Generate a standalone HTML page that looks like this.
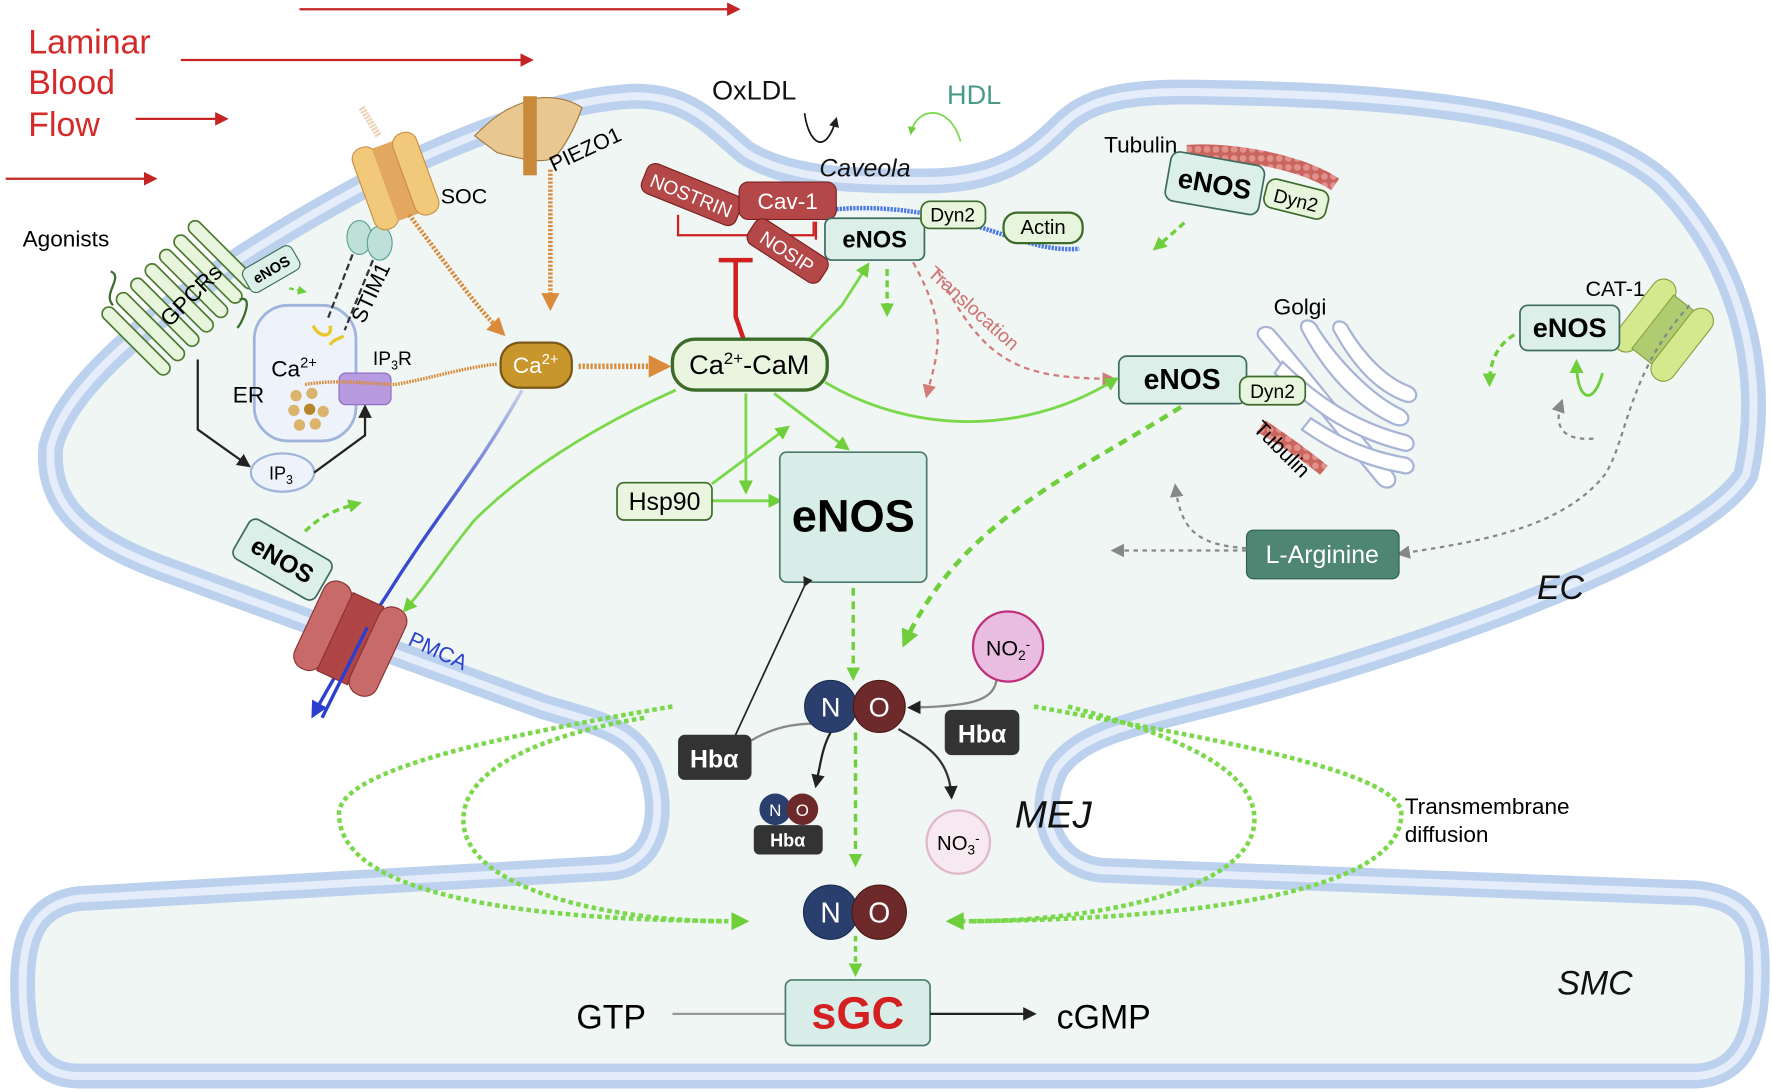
<!DOCTYPE html>
<html><head><meta charset="utf-8"><style>
html,body{margin:0;padding:0;background:#fff}
svg{display:block}
text{font-family:"Liberation Sans",sans-serif}
</style></head><body>
<svg width="1772" height="1092" viewBox="0 0 1568 966" xmlns="http://www.w3.org/2000/svg">
<defs>
<path id="mem" d="M45,395 C60,330 180,240 330,160 C420,115 500,88 560,85 C610,84 630,110 660,135 C700,160 760,160 820,160 C880,160 910,140 940,110 C970,80 1020,80 1090,82 C1250,85 1400,100 1470,160 C1540,230 1565,330 1545,420 C1510,480 1300,560 1120,610 C1010,640 960,645 935,680 C915,720 930,765 975,770 L1500,790 C1550,795 1555,820 1555,860 C1555,900 1550,950 1500,952 L70,952 C30,952 20,920 20,870 C20,830 30,800 70,795 L540,768 C580,765 590,720 575,680 C560,645 530,640 480,625 L150,505 C80,480 40,450 45,395 Z"/>
<marker id="ar" viewBox="0 0 10 10" refX="8" refY="5" markerWidth="6" markerHeight="6" orient="auto"><path d="M0,0L10,5L0,10z" fill="#c52424"/></marker>
<marker id="ag" viewBox="0 0 10 10" refX="8" refY="5" markerWidth="5" markerHeight="5" orient="auto"><path d="M0,0L10,5L0,10z" fill="#6fcf3a"/></marker>
<marker id="agb" viewBox="0 0 10 10" refX="8" refY="5" markerWidth="4" markerHeight="4" orient="auto"><path d="M0,0L10,5L0,10z" fill="#6fcf3a"/></marker>
<marker id="ak" viewBox="0 0 10 10" refX="8" refY="5" markerWidth="6" markerHeight="6" orient="auto"><path d="M0,0L10,5L0,10z" fill="#222"/></marker>
<marker id="ao" viewBox="0 0 10 10" refX="8" refY="5" markerWidth="4" markerHeight="4" orient="auto"><path d="M0,0L10,5L0,10z" fill="#d98b3a"/></marker>
<marker id="ap" viewBox="0 0 10 10" refX="8" refY="5" markerWidth="6" markerHeight="6" orient="auto"><path d="M0,0L10,5L0,10z" fill="#d47a7a"/></marker>
<marker id="agr" viewBox="0 0 10 10" refX="8" refY="5" markerWidth="6" markerHeight="6" orient="auto"><path d="M0,0L10,5L0,10z" fill="#888"/></marker>
<marker id="ab" viewBox="0 0 10 10" refX="8" refY="5" markerWidth="5" markerHeight="5" orient="auto"><path d="M0,0L10,5L0,10z" fill="#2a3fd0"/></marker>
<pattern id="tub" width="8" height="8" patternUnits="userSpaceOnUse"><rect width="8" height="8" fill="#c9645e"/><circle cx="4" cy="4" r="3" fill="#e0918a"/></pattern>
<linearGradient id="bl" x1="0" y1="0" x2="0" y2="1"><stop offset="0" stop-color="#c8cde8"/><stop offset="0.4" stop-color="#3a4fd0"/><stop offset="1" stop-color="#2a3fd0"/></linearGradient>
</defs>

<g stroke="#c52424" stroke-width="2" marker-end="url(#ar)">
<line x1="265" y1="8" x2="653" y2="8"/><line x1="160" y1="53" x2="470" y2="53"/><line x1="120" y1="105" x2="200" y2="105"/><line x1="5" y1="158" x2="137" y2="158"/>
</g>
<text x="25" y="47" font-size="30" fill="#d42a2a">Laminar</text>
<text x="25" y="83" font-size="30" fill="#d42a2a">Blood</text>
<text x="25" y="120" font-size="30" fill="#d42a2a">Flow</text>

<use href="#mem" fill="#eff6f4" stroke="#bcd1ee" stroke-width="22" stroke-linejoin="round"/>
<use href="#mem" fill="none" stroke="#e4edf9" stroke-width="7" stroke-linejoin="round"/>

<text x="1360" y="530" font-size="30" font-style="italic" fill="#111">EC</text>
<text x="1378" y="880" font-size="30" font-style="italic" fill="#111">SMC</text>
<text x="898" y="732" font-size="34" font-style="italic" fill="#111">MEJ</text>

<text x="630" y="88" font-size="24" fill="#111">OxLDL</text>
<path d="M712,100 C715,125 730,140 740,105" fill="none" stroke="#111" stroke-width="1.5" marker-end="url(#ak)"/>
<text x="838" y="92" font-size="24" fill="#4a9a8a">HDL</text>
<path d="M850,125 C840,90 810,95 806,118" fill="none" stroke="#7ad84a" stroke-width="1.5" marker-end="url(#ag)"/>
<text x="725" y="156" font-size="22" font-style="italic" fill="#111">Caveola</text>

<path d="M740,185 C800,180 850,195 880,205 C910,215 930,222 955,220" fill="none" stroke="#4a78e8" stroke-width="4" stroke-dasharray="2 1"/>
<path d="M600,190 V208 H720 V196" fill="none" stroke="#d02020" stroke-width="2"/>
<line x1="722" y1="196" x2="722" y2="212" stroke="#d02020" stroke-width="2"/>
<path d="M636,230 H666 M651,230 V280 L658,300" fill="none" stroke="#d02020" stroke-width="4"/>
<g transform="translate(612,172) rotate(22)"><rect x="-45" y="-14" width="90" height="28" rx="8" fill="#b44848" stroke="#7a2020"/><text x="0" y="7" font-size="17" fill="#fff" text-anchor="middle">NOSTRIN</text></g>
<rect x="654" y="161" width="86" height="33" rx="8" fill="#b44848" stroke="#7a2020"/><text x="697" y="185" font-size="20" fill="#fff" text-anchor="middle">Cav-1</text>
<g transform="translate(697,222) rotate(33)"><rect x="-38" y="-13" width="76" height="26" rx="8" fill="#b44848" stroke="#7a2020"/><text x="0" y="7" font-size="17" fill="#fff" text-anchor="middle">NOSIP</text></g>
<rect x="730" y="193" width="88" height="37" rx="6" fill="#dcefe9" stroke="#3d6b5e" stroke-width="1.5"/><text x="774" y="219" font-size="21" font-weight="bold" text-anchor="middle">eNOS</text>
<rect x="815" y="178" width="57" height="24" rx="8" fill="#e6f5dc" stroke="#3d6b2a" stroke-width="1.5"/><text x="843" y="196" font-size="17" text-anchor="middle">Dyn2</text>
<rect x="888" y="188" width="70" height="27" rx="12" fill="#e6f5dc" stroke="#3d6b2a" stroke-width="2"/><text x="923" y="207" font-size="18" text-anchor="middle">Actin</text>
<line x1="785" y1="238" x2="785" y2="278" stroke="#6fcf3a" stroke-width="3" stroke-dasharray="6 4" marker-end="url(#agb)"/>
<text transform="translate(820,243) rotate(42)" font-size="17" fill="#d07070">Translocation</text>
<path d="M808,232 C840,290 830,310 820,350" fill="none" stroke="#d47a7a" stroke-width="2" stroke-dasharray="5 4" marker-end="url(#ap)"/>
<path d="M830,240 C870,320 900,335 985,335" fill="none" stroke="#d47a7a" stroke-width="2" stroke-dasharray="5 4" marker-end="url(#ap)"/>

<text x="977" y="135" font-size="20">Tubulin</text>
<path d="M1050,128 C1100,125 1160,140 1185,158 L1178,168 C1150,150 1100,140 1050,143 Z" fill="url(#tub)"/>
<g transform="translate(1075,162) rotate(10)"><rect x="-42" y="-22" width="84" height="44" rx="8" fill="#dcefe9" stroke="#3d6b5e" stroke-width="1.5"/><text x="0" y="9" font-size="24" font-weight="bold" text-anchor="middle">eNOS</text></g>
<g transform="translate(1147,176) rotate(14)"><rect x="-28" y="-13" width="56" height="26" rx="8" fill="#e6f5dc" stroke="#3d6b2a" stroke-width="1.5"/><text x="0" y="7" font-size="17" text-anchor="middle">Dyn2</text></g>
<path d="M1048,197 L1022,220" stroke="#6fcf3a" stroke-width="3" stroke-dasharray="6 4" marker-end="url(#agb)"/>

<text x="1127" y="278" font-size="20">Golgi</text>
<g fill="#fff" stroke="#a8b4d6" stroke-width="2">
<path d="M1115,300 C1108,292 1120,285 1127,292 C1160,330 1190,370 1232,418 C1240,428 1228,436 1220,428 C1180,380 1150,340 1115,300 Z"/>
<path d="M1152,292 C1148,282 1162,280 1166,290 C1185,320 1215,350 1240,362 C1252,368 1245,380 1233,375 C1200,360 1172,330 1152,292 Z"/>
<path d="M1180,292 C1178,282 1190,282 1193,290 C1208,315 1228,335 1248,342 C1258,348 1252,358 1243,355 C1215,345 1195,320 1180,292 Z"/>
<path d="M1135,320 C1170,355 1205,375 1245,385 C1256,390 1250,402 1240,398 C1200,388 1165,368 1128,330 Z"/>
<path d="M1160,370 C1190,390 1215,400 1245,405 C1256,410 1250,422 1240,418 C1210,413 1180,400 1152,380 Z"/>
</g>
<path d="M1120,372 C1140,385 1160,400 1175,412 L1168,420 C1150,405 1130,392 1112,382 Z" fill="url(#tub)"/>
<text transform="translate(1108,380) rotate(45)" font-size="19">Tubulin</text>
<rect x="990" y="315" width="113" height="42" rx="7" fill="#dcefe9" stroke="#3d6b5e" stroke-width="1.5"/><text x="1046" y="344" font-size="25" font-weight="bold" text-anchor="middle">eNOS</text>
<rect x="1097" y="333" width="58" height="25" rx="8" fill="#e6f5dc" stroke="#3d6b2a" stroke-width="1.5"/><text x="1126" y="352" font-size="17" text-anchor="middle">Dyn2</text>

<text x="1403" y="262" font-size="19">CAT-1</text>
<g transform="translate(1472,292) rotate(38)">
<rect x="-32" y="-38" width="22" height="76" rx="11" fill="#d4e88e" stroke="#8aa040"/>
<rect x="-12" y="-30" width="24" height="60" fill="#b0cc70" stroke="#8aa040"/>
<rect x="10" y="-38" width="22" height="76" rx="11" fill="#d4e88e" stroke="#8aa040"/>
</g>
<rect x="1345" y="270" width="88" height="40" rx="7" fill="#dcefe9" stroke="#3d6b5e" stroke-width="1.5"/><text x="1389" y="298" font-size="24" font-weight="bold" text-anchor="middle">eNOS</text>
<path d="M1418,330 C1410,360 1395,355 1395,320" fill="none" stroke="#6fcf3a" stroke-width="2.5" marker-end="url(#ag)"/>
<path d="M1340,296 C1325,305 1318,320 1318,340" fill="none" stroke="#6fcf3a" stroke-width="3" stroke-dasharray="6 4" marker-end="url(#agb)"/>
<path d="M1495,270 C1440,330 1440,390 1420,420 C1380,470 1300,480 1238,490" fill="none" stroke="#888" stroke-width="2" stroke-dasharray="4 4" marker-end="url(#agr)"/>
<path d="M1410,388 C1380,390 1375,375 1382,355" fill="none" stroke="#888" stroke-width="2" stroke-dasharray="4 4" marker-end="url(#agr)"/>
<rect x="1103" y="469" width="135" height="43" rx="6" fill="#4e8573" stroke="#2e5e4e"/><text x="1170" y="498" font-size="22" fill="#fff" text-anchor="middle">L-Arginine</text>
<line x1="1103" y1="487" x2="985" y2="487" stroke="#888" stroke-width="2" stroke-dasharray="4 4" marker-end="url(#agr)"/>
<path d="M1103,485 C1060,482 1045,470 1040,430" fill="none" stroke="#888" stroke-width="2" stroke-dasharray="4 4" marker-end="url(#agr)"/>

<text x="20" y="218" font-size="20">Agonists</text>
<path d="M98,240 C110,245 90,260 100,270" fill="none" stroke="#3d6b2a" stroke-width="2"/>
<g transform="translate(160,262) rotate(-45)" fill="#e6f5dc" stroke="#4d7a30" stroke-width="1.5">
<rect x="-62" y="-40" width="12" height="80" rx="6"/><rect x="-44" y="-40" width="12" height="80" rx="6"/><rect x="-26" y="-40" width="12" height="80" rx="6"/><rect x="-8" y="-40" width="12" height="80" rx="6"/><rect x="10" y="-40" width="12" height="80" rx="6"/><rect x="28" y="-40" width="12" height="80" rx="6"/><rect x="46" y="-40" width="12" height="80" rx="6"/>
</g>
<text transform="translate(150,290) rotate(-45)" font-size="20">GPCRs</text>
<path d="M212,265 C225,260 215,285 210,290" fill="none" stroke="#3d6b2a" stroke-width="2"/>
<g transform="translate(240,238) rotate(-30)"><rect x="-25" y="-12" width="50" height="24" rx="6" fill="#dcefe9" stroke="#3d6b5e"/><text x="0" y="5" font-size="13" font-weight="bold" text-anchor="middle">eNOS</text></g>
<line x1="256" y1="255" x2="270" y2="258" stroke="#6fcf3a" stroke-width="2" stroke-dasharray="4 3" marker-end="url(#agb)"/>
<rect x="225" y="270" width="90" height="120" rx="30" fill="#eef3fb" stroke="#a0b4dc" stroke-width="2.5"/>
<text x="240" y="333" font-size="20">Ca<tspan font-size="13" dy="-8">2+</tspan></text>
<text x="206" y="356" font-size="20">ER</text>
<g fill="#d9b46a"><circle cx="262" cy="350" r="5"/><circle cx="276" cy="348" r="5"/><circle cx="260" cy="363" r="5"/><circle cx="274" cy="362" r="5" fill="#b8862a"/><circle cx="286" cy="364" r="5"/><circle cx="265" cy="376" r="5"/><circle cx="279" cy="375" r="5"/></g>
<ellipse cx="318" cy="210" rx="11" ry="15" fill="#bfe0d8" stroke="#5aa090"/><ellipse cx="336" cy="215" rx="11" ry="15" fill="#bfe0d8" stroke="#5aa090"/>
<line x1="312" y1="225" x2="290" y2="282" stroke="#333" stroke-width="2" stroke-dasharray="6 3"/>
<line x1="330" y1="230" x2="305" y2="292" stroke="#333" stroke-width="2" stroke-dasharray="6 3"/>
<path d="M277,288 C283,300 295,298 292,288" fill="none" stroke="#e8c830" stroke-width="3"/>
<path d="M292,305 C295,300 300,300 304,297" fill="none" stroke="#e8c830" stroke-width="3"/>
<text transform="translate(322,287) rotate(-65)" font-size="19">STIM1</text>
<g transform="translate(350,160) rotate(-20)">
<rect x="-30" y="-38" width="22" height="76" rx="10" fill="#f2c87a" stroke="#c89040"/>
<rect x="-10" y="-34" width="20" height="68" fill="#e3a860"/>
<rect x="8" y="-38" width="22" height="76" rx="10" fill="#f2c87a" stroke="#c89040"/>
</g>
<line x1="320" y1="95" x2="335" y2="120" stroke="#ebd4b8" stroke-width="6" stroke-dasharray="2 1"/>
<text x="390" y="180" font-size="19">SOC</text>
<path d="M362,190 C400,240 420,270 445,295" fill="none" stroke="#d98b3a" stroke-width="4" stroke-dasharray="2 1.5" marker-end="url(#ao)"/>
<path d="M420,120 C440,100 450,95 470,88 C480,85 500,85 515,95 C510,110 500,130 490,140 C475,145 460,140 440,135 Z" fill="#e8c890" stroke="#a07840"/>
<rect x="463" y="85" width="12" height="70" fill="#c88a3a"/>
<text transform="translate(490,152) rotate(-25)" font-size="19">PIEZO1</text>
<line x1="487" y1="150" x2="487" y2="272" stroke="#d98b3a" stroke-width="4" stroke-dasharray="2 1.5" marker-end="url(#ao)"/>
<rect x="300" y="330" width="46" height="28" rx="6" fill="#b89ae0" stroke="#8a6ac0"/>
<text x="330" y="323" font-size="17">IP<tspan font-size="11" dy="4">3</tspan><tspan dy="-4">R</tspan></text>
<path d="M270,340 C300,335 330,340 350,340 C380,335 410,325 440,322" fill="none" stroke="#d98b3a" stroke-width="3" stroke-dasharray="1.5 1"/>
<ellipse cx="250" cy="418" rx="28" ry="17" fill="#eef3fb" stroke="#a0b4dc" stroke-width="2"/>
<text x="238" y="424" font-size="16">IP<tspan font-size="11" dy="4">3</tspan></text>
<path d="M175,318 V380 L220,412" fill="none" stroke="#222" stroke-width="2" marker-end="url(#ak)"/>
<path d="M278,418 L323,385 V360" fill="none" stroke="#222" stroke-width="2" marker-end="url(#ak)"/>
<rect x="443" y="303" width="63" height="40" rx="17" fill="#c8962a" stroke="#7a5818" stroke-width="2"/>
<text x="474" y="330" font-size="20" fill="#fff" text-anchor="middle">Ca<tspan font-size="13" dy="-8">2+</tspan></text>
<line x1="512" y1="324" x2="590" y2="324" stroke="#d98b3a" stroke-width="5" stroke-dasharray="2 1.5" marker-end="url(#ao)"/>
<path d="M462,345 C420,420 390,450 340,530 C310,575 295,600 277,633" fill="none" stroke="url(#bl)" stroke-width="3" marker-end="url(#ab)"/>
<g transform="translate(310,565) rotate(25)">
<rect x="-40" y="-42" width="26" height="84" rx="12" fill="#c86a6a" stroke="#8a3030"/>
<rect x="-15" y="-38" width="30" height="76" fill="#b04545" stroke="#8a3030"/>
<rect x="14" y="-42" width="26" height="84" rx="12" fill="#c86a6a" stroke="#8a3030"/>
</g>
<path d="M325,555 L285,635" stroke="#2a3fd0" stroke-width="3"/>
<text transform="translate(360,570) rotate(25)" font-size="19" fill="#2a3fd0">PMCA</text>
<g transform="translate(250,495) rotate(30)"><rect x="-42" y="-20" width="84" height="40" rx="7" fill="#dcefe9" stroke="#3d6b5e" stroke-width="1.5"/><text x="0" y="8" font-size="22" font-weight="bold" text-anchor="middle">eNOS</text></g>
<path d="M270,470 C285,455 300,450 318,445" fill="none" stroke="#6fcf3a" stroke-width="3" stroke-dasharray="6 4" marker-end="url(#agb)"/>

<g fill="none" stroke="#7ad84a" stroke-width="2.5">
<path d="M598,345 C520,380 460,420 420,460 C395,490 380,515 358,540" marker-end="url(#ag)"/>
<path d="M716,300 L745,270 L768,234" marker-end="url(#ag)"/>
<path d="M730,338 C800,380 900,390 988,335" marker-end="url(#ag)"/>
<path d="M660,348 V435" marker-end="url(#ag)"/>
<path d="M685,348 L750,397" marker-end="url(#ag)"/>
<path d="M630,443 H690" marker-end="url(#ag)"/>
<path d="M630,428 L697,378" marker-end="url(#ag)"/>
</g>
<rect x="595" y="300" width="137" height="45" rx="20" fill="#eaf5e0" stroke="#3d6b2a" stroke-width="3"/>
<text x="663" y="331" font-size="24" text-anchor="middle">Ca<tspan font-size="15" dy="-9">2+</tspan><tspan dy="9">-CaM</tspan></text>
<rect x="546" y="427" width="84" height="33" rx="6" fill="#eaf5e0" stroke="#3d6b2a" stroke-width="1.5"/><text x="588" y="451" font-size="22" text-anchor="middle">Hsp90</text>
<rect x="690" y="400" width="130" height="115" rx="6" fill="#d8ece8" stroke="#4b7a6c" stroke-width="1.5"/><text x="755" y="470" font-size="40" font-weight="bold" text-anchor="middle">eNOS</text>

<line x1="755" y1="520" x2="755" y2="600" stroke="#6fcf3a" stroke-width="3" stroke-dasharray="7 5" marker-end="url(#agb)"/>
<path d="M1045,360 C950,420 850,460 800,570" fill="none" stroke="#6fcf3a" stroke-width="4" stroke-dasharray="8 6" marker-end="url(#agb)"/>
<line x1="757" y1="648" x2="757" y2="765" stroke="#6fcf3a" stroke-width="3" stroke-dasharray="7 5" marker-end="url(#agb)"/>
<line x1="757" y1="828" x2="757" y2="862" stroke="#6fcf3a" stroke-width="3" stroke-dasharray="5 4" marker-end="url(#agb)"/>

<g fill="none" stroke="#7ad84a" stroke-width="4" stroke-dasharray="4 3">
<path d="M595,625 C450,650 300,680 300,720 C300,800 500,815 660,815" marker-end="url(#agb)"/>
<path d="M570,635 C480,650 410,680 410,725 C410,790 550,815 640,815"/>
<path d="M915,625 C1050,650 1240,680 1240,720 C1240,800 1000,815 840,815" marker-end="url(#agb)"/>
<path d="M945,625 C1040,650 1110,680 1110,725 C1110,790 960,815 860,815"/>
</g>
<text x="1243" y="720" font-size="20">Transmembrane</text>
<text x="1243" y="745" font-size="20">diffusion</text>

<line x1="712" y1="518" x2="650" y2="652" stroke="#222" stroke-width="1.5" marker-start="url(#ak)"/>
<path d="M665,655 C690,640 710,640 735,640" fill="none" stroke="#888" stroke-width="2"/>
<path d="M735,648 C728,660 726,675 722,695" fill="none" stroke="#222" stroke-width="2" marker-end="url(#ak)"/>
<path d="M795,645 C820,660 840,670 842,705" fill="none" stroke="#333" stroke-width="2" marker-end="url(#ak)"/>
<path d="M882,600 C880,620 860,625 805,626" fill="none" stroke="#888" stroke-width="2" marker-end="url(#ak)"/>
<circle cx="735" cy="625" r="23" fill="#2b3f6e" stroke="#1a2a50"/><circle cx="778" cy="625" r="23" fill="#6e2a2a" stroke="#4a1818"/>
<text x="735" y="634" font-size="24" fill="#fff" text-anchor="middle">N</text><text x="778" y="634" font-size="24" fill="#fff" text-anchor="middle">O</text>
<circle cx="892" cy="572" r="31" fill="#e8bde0" stroke="#c0307a" stroke-width="2"/>
<text x="892" y="580" font-size="19" text-anchor="middle">NO<tspan font-size="12" dy="4">2</tspan><tspan font-size="12" dy="-10">-</tspan></text>
<rect x="600" y="650" width="65" height="40" rx="6" fill="#333"/><text x="632" y="679" font-size="22" font-weight="bold" fill="#fff" text-anchor="middle">Hbα</text>
<rect x="836" y="628" width="66" height="40" rx="6" fill="#333"/><text x="869" y="657" font-size="22" font-weight="bold" fill="#fff" text-anchor="middle">Hbα</text>
<rect x="667" y="730" width="61" height="26" rx="5" fill="#333"/><text x="697" y="749" font-size="16" font-weight="bold" fill="#fff" text-anchor="middle">Hbα</text>
<circle cx="686" cy="716" r="14" fill="#2b3f6e"/><circle cx="710" cy="716" r="14" fill="#6e2a2a"/>
<text x="686" y="722" font-size="15" fill="#fff" text-anchor="middle">N</text><text x="710" y="722" font-size="15" fill="#fff" text-anchor="middle">O</text>
<circle cx="848" cy="745" r="28" fill="#f8e8f0" stroke="#e0b8cc" stroke-width="2"/>
<text x="848" y="752" font-size="18" text-anchor="middle">NO<tspan font-size="12" dy="4">3</tspan><tspan font-size="12" dy="-10">-</tspan></text>
<circle cx="735" cy="807" r="24" fill="#2b3f6e" stroke="#1a2a50"/><circle cx="778" cy="807" r="24" fill="#6e2a2a" stroke="#4a1818"/>
<text x="735" y="816" font-size="25" fill="#fff" text-anchor="middle">N</text><text x="778" y="816" font-size="25" fill="#fff" text-anchor="middle">O</text>

<text x="510" y="910" font-size="30">GTP</text>
<line x1="595" y1="897" x2="695" y2="897" stroke="#999" stroke-width="2"/>
<rect x="695" y="867" width="128" height="58" rx="6" fill="#d8ece8" stroke="#4b7a6c" stroke-width="1.5"/>
<text x="759" y="910" font-size="40" font-weight="bold" fill="#d42020" text-anchor="middle">sGC</text>
<line x1="823" y1="897" x2="915" y2="897" stroke="#222" stroke-width="2" marker-end="url(#ak)"/>
<text x="935" y="910" font-size="30">cGMP</text>
</svg>
</body></html>
